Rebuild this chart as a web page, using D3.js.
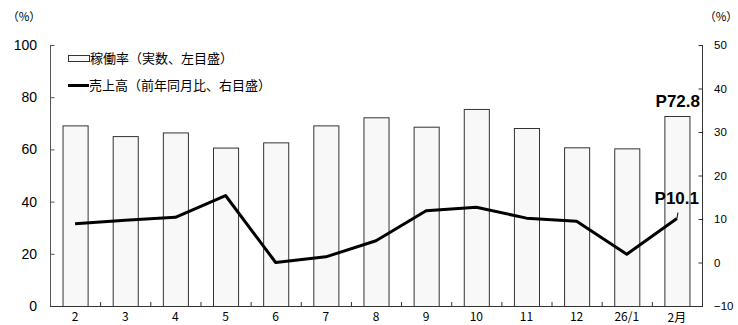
<!DOCTYPE html>
<html><head><meta charset="utf-8">
<script src="https://cdn.jsdelivr.net/npm/d3@7"></script>
<style>
body{margin:0;background:#fff;}
svg{display:block;}
text{font-family:"Liberation Sans",Arial,sans-serif;fill:#000;}
.jp{font-family:"Noto Sans CJK JP",sans-serif;}
</style></head>
<body><svg id="c" width="738" height="325"></svg>
<script>
const categories = ["2","3","4","5","6","7","8","9","10","11","12","26/1","2月"];
const occupancy = [69.2, 65.1, 66.5, 60.7, 62.7, 69.2, 72.3, 68.7, 75.5, 68.2, 60.8, 60.4, 72.8];
const salesYoY = [8.9, 9.7, 10.4, 15.4, 0.0, 1.3, 5.0, 11.9, 12.7, 10.2, 9.5, 1.9, 10.1];
const leftTicks = [0, 20, 40, 60, 80, 100];
const rightTicks = [-10, 0, 10, 20, 30, 40, 50];
const legendLabels = ["稼働率（実数、左目盛）", "売上高（前年同月比、右目盛）"];
const annotations = ["P72.8", "P10.1"];

const svg = d3.select("#c");
const L = 50, R = 702, T = 45, B = 306;

const x = d3.scaleBand().domain(categories).range([L, R]).paddingInner(0.5).paddingOuter(0.25);
const yL = d3.scaleLinear().domain([0, 100]).range([B, T]);
const yR = d3.scaleLinear().domain([-10, 50]).range([B, T]);

// bars
svg.append("g").selectAll("rect").data(occupancy).join("rect")
  .attr("x", (d, i) => x(categories[i]) + 0.5)
  .attr("y", d => yL(d) + 0.5)
  .attr("width", x.bandwidth())
  .attr("height", d => B - yL(d))
  .attr("fill", "#f8f8f8")
  .attr("stroke", "#333")
  .attr("stroke-width", 1);

// axes
const gl = svg.append("g").attr("transform", `translate(${L + 0.5},0)`)
  .call(d3.axisRight(yL).tickValues(leftTicks).tickSize(4).tickFormat(""));
gl.select(".domain").attr("stroke", "#555").attr("d", `M0,${T}V${B}`);
gl.selectAll(".tick line").attr("stroke", "#555");

const gr = svg.append("g").attr("transform", `translate(${R + 0.5},0)`)
  .call(d3.axisLeft(yR).tickValues(rightTicks).tickSize(4).tickFormat(""));
gr.select(".domain").attr("stroke", "#333").attr("d", `M0,${T}V${B}`);
gr.selectAll(".tick line").attr("stroke", "#333");

// bottom axis with boundary ticks
svg.append("line").attr("x1", L).attr("x2", R + 1).attr("y1", B + 0.5).attr("y2", B + 0.5)
  .attr("stroke", "#333");
const step = x.step();
svg.append("g").selectAll("line").data(categories.slice(1)).join("line")
  .attr("x1", (d) => x(d) - (step - x.bandwidth()) / 2 + 0.5)
  .attr("x2", (d) => x(d) - (step - x.bandwidth()) / 2 + 0.5)
  .attr("y1", B).attr("y2", B - 4).attr("stroke", "#333");

// tick labels
svg.append("g").selectAll("text").data(leftTicks).join("text")
  .attr("x", 37).attr("y", d => yL(d) + 5)
  .attr("text-anchor", "end").attr("font-size", 14).text(d => d);
svg.append("g").selectAll("text").data(rightTicks).join("text")
  .attr("x", 714).attr("y", d => yR(d) + 4)
  .attr("font-size", 11.5).text(d => d < 0 ? "−" + Math.abs(d) : d);
svg.append("g").selectAll("text").data(categories).join("text")
  .attr("class", "jp")
  .attr("x", d => x(d) + x.bandwidth() / 2)
  .attr("y", (d, i) => i === categories.length - 1 ? 322 : 321)
  .attr("text-anchor", "middle").attr("font-size", 12).text(d => d);

// unit labels
svg.append("text").attr("class", "jp").attr("x", 24).attr("y", 21).attr("text-anchor", "middle")
  .attr("font-size", 11.5).text("（%）");
svg.append("text").attr("class", "jp").attr("x", 721).attr("y", 21).attr("text-anchor", "middle")
  .attr("font-size", 11.5).text("（%）");

// line
const line = d3.line().x((d, i) => x(categories[i]) + x.bandwidth() / 2).y(d => yR(d));
svg.append("path").datum(salesYoY).attr("d", line)
  .attr("fill", "none").attr("stroke", "#000").attr("stroke-width", 3).attr("stroke-linejoin", "round");

// annotations
const last = categories.length - 1;
const lx = x(categories[last]) + x.bandwidth() / 2;
svg.append("line").attr("x1", lx).attr("x2", lx + 1).attr("y1", yR(salesYoY[last])).attr("y2", yR(salesYoY[last]) - 6)
  .attr("stroke", "#000").attr("stroke-width", 1);
svg.append("text").attr("x", 700).attr("y", yL(occupancy[last]) - 9).attr("text-anchor", "end")
  .attr("font-size", 17).attr("font-weight", "bold").text(annotations[0]);
svg.append("text").attr("x", 699).attr("y", yR(salesYoY[last]) - 15).attr("text-anchor", "end")
  .attr("font-size", 17).attr("font-weight", "bold").text(annotations[1]);

// legend
svg.append("rect").attr("x", 68.5).attr("y", 55.5).attr("width", 21).attr("height", 6)
  .attr("fill", "#f8f8f8").attr("stroke", "#333");
svg.append("text").attr("class", "jp").attr("x", 90).attr("y", 63).attr("font-size", 13).text(legendLabels[0]);
svg.append("line").attr("x1", 68).attr("x2", 89).attr("y1", 85.5).attr("y2", 85.5).attr("stroke", "#000").attr("stroke-width", 3);
svg.append("text").attr("class", "jp").attr("x", 89).attr("y", 90).attr("font-size", 13).text(legendLabels[1]);
</script></body></html>
